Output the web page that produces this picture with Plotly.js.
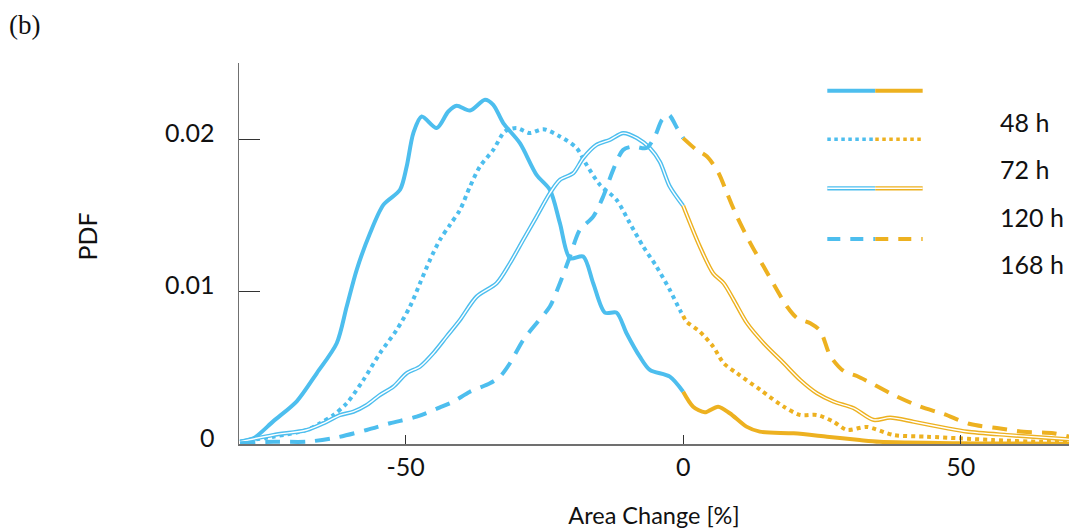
<!DOCTYPE html>
<html>
<head>
<meta charset="utf-8">
<script src="https://cdn.plot.ly/plotly-3.0.1.min.js"></script>
<style>html,body{margin:0;padding:0;background:#fff;}#chart{width:1069px;height:531px;}</style>
</head>
<body>
<div id="chart"></div>
<script>
// ---- data ----
const seriesNames = ['48 h', '72 h', '120 h', '168 h'];

const x48 = [-79.8,-77.4,-73.8,-69.6,-66.0,-62.4,-60.6,-58.8,-56.4,-54.0,-51.0,-49.8,-48.6,-47.1,-44.4,-42.3,-40.8,-38.4,-35.7,-34.2,-32.4,-29.4,-26.4,-24.0,-22.2,-20.4,-18.0,-16.2,-14.1,-12.0,-10.2,-7.8,-6.0,-2.4,0,1.8,3.9,6.3,8.4,11.4,13.8,19.9,25.9,31.8,35.4,49.9,57.1,69.5];
const y48 = [0.00015,0.00037,0.00150,0.00280,0.00464,0.00661,0.00902,0.01143,0.01383,0.01569,0.01668,0.01821,0.0204,0.02149,0.02073,0.02182,0.02219,0.02188,0.02259,0.02226,0.02106,0.01974,0.01766,0.01668,0.01449,0.01219,0.0123,0.01055,0.00862,0.00862,0.00727,0.00573,0.00486,0.00442,0.00343,0.00245,0.00208,0.00245,0.00202,0.00114,0.00081,0.0007,0.00048,0.00026,0.00015,0.00005,0.00003,0.00001];

const x72 = [-79.8,-73.8,-67.8,-65.4,-63.0,-60.6,-57.6,-54.6,-51.6,-49.2,-47.4,-45.6,-43.8,-42.0,-40.2,-38.4,-36.6,-34.2,-32.1,-30.0,-27.6,-25.2,-22.2,-19.2,-17.4,-15.0,-12.0,-9.6,-7.2,-4.8,-2.4,-0.6,0,0.6,3.0,5.4,7.3,9.7,13.9,18.1,21.1,24.1,27.1,29.5,33.1,37.9,43.9,49.9,55.8,64.8,69.5];
const y72 = [0.00015,0.00048,0.00092,0.00136,0.0019,0.00267,0.0042,0.00596,0.00749,0.00902,0.01055,0.01208,0.0134,0.01438,0.01536,0.01689,0.01821,0.0193,0.02051,0.02073,0.0204,0.02066,0.02018,0.01942,0.01832,0.01701,0.01602,0.01449,0.01296,0.01164,0.01011,0.0088,0.0084,0.00803,0.00737,0.00639,0.0053,0.00464,0.00355,0.00245,0.0019,0.0019,0.00146,0.00092,0.00112,0.00059,0.00048,0.00037,0.00026,0.00015,0.00026];

const x120 = [-79.8,-73.8,-67.8,-64.8,-61.8,-59.4,-57.0,-54.6,-52.2,-49.8,-47.4,-45.0,-42.6,-40.2,-37.2,-33.6,-31.2,-28.8,-26.4,-24.0,-22.2,-19.8,-18.0,-15.6,-13.2,-10.8,-8.3,-6.0,-4.2,-2.4,0,3.0,5.4,7.3,9.1,11.5,14.5,18.1,21.1,24.1,27.1,30.7,34.3,37.3,41.5,47.5,51.1,58.3,69.5];
const y120 = [0.00015,0.00059,0.00092,0.00136,0.0019,0.00212,0.00256,0.00322,0.00376,0.00464,0.00508,0.00596,0.00705,0.00814,0.00967,0.01055,0.01186,0.0134,0.01492,0.01646,0.01733,0.01777,0.01876,0.01963,0.01996,0.0204,0.02007,0.01942,0.01852,0.01689,0.01563,0.01296,0.01121,0.01055,0.00946,0.00793,0.00662,0.00531,0.0042,0.00333,0.00278,0.00235,0.00158,0.00173,0.00146,0.00103,0.00081,0.00059,0.00031];

const x168 = [-79.8,-73.8,-67.8,-62.4,-57.0,-52.8,-48.0,-43.8,-41.4,-38.4,-34.8,-33.0,-31.2,-28.8,-26.4,-24.0,-22.2,-20.4,-18.6,-16.2,-14.4,-12.6,-10.8,-9.0,-6.6,-5.1,-3.8,-2.6,-1.1,0,2.4,4.3,6.4,7.9,9.7,12.1,14.5,16.9,18.7,20.5,22.9,24.7,26.5,28.9,31.3,33.1,37.9,42.7,46.9,51.7,56.5,61.3,66.7,69.5];
const y168 = [0.00005,0.00015,0.00015,0.00043,0.00092,0.00136,0.00179,0.0024,0.00278,0.00343,0.00399,0.00442,0.0053,0.00683,0.00793,0.00902,0.01055,0.0123,0.01405,0.01492,0.01624,0.01799,0.0193,0.01952,0.01942,0.02018,0.02127,0.0216,0.02073,0.02007,0.0193,0.01886,0.01777,0.01646,0.01492,0.01318,0.01164,0.01011,0.00902,0.00827,0.00793,0.00742,0.00578,0.00479,0.00446,0.00414,0.00322,0.00245,0.00197,0.00131,0.00105,0.00081,0.0007,0.00048];

const xTickVals = [-50, 0, 50];
const xTickText = ['-50', '0', '50'];
const yTickVals = [0, 0.01, 0.02];
const yTickText = ['0', '0.01', '0.02'];

// ---- styling ----
const BLUE = '#4DBEEE';
const ORANGE = '#EDB120';
const FONT = 'Lato, "Open Sans", sans-serif';
const styles = [
  {kind: 'solid', dash: 'solid', width: 4},
  {kind: 'dot', dash: 'dot', width: 4},
  {kind: 'double', dash: 'solid', width: 4.2},
  {kind: 'dash', dash: '15px,10px', width: 4}
];
const allX = [x48, x72, x120, x168];
const allY = [y48, y72, y120, y168];

const traces = [];
function addTrace(xs, ys, color, st) {
  traces.push({x: xs, y: ys, type: 'scatter', mode: 'lines', hoverinfo: 'skip', showlegend: false,
    line: {color: color, width: st.width, dash: st.dash, shape: 'spline', smoothing: 0.8}});
  if (st.kind === 'double') {
    traces.push({x: xs, y: ys, type: 'scatter', mode: 'lines', hoverinfo: 'skip', showlegend: false,
      line: {color: '#ffffff', width: 1.4, shape: 'spline', smoothing: 0.8}});
  }
}
allX.forEach((xs, i) => {
  const ys = allY[i];
  const lx = [], ly = [], rx = [], ry = [];
  xs.forEach((v, k) => {
    if (v <= 0) { lx.push(v); ly.push(ys[k]); }
    if (v >= 0) { rx.push(v); ry.push(ys[k]); }
  });
  addTrace(lx, ly, BLUE, styles[i]);
  addTrace(rx, ry, ORANGE, styles[i]);
});

// ---- custom legend (paper coordinates) ----
const legX0 = 0.7088, legXm = 0.7666, legX1 = 0.8237;
const legLineY = [0.9273, 0.7997, 0.6711, 0.538];
const legTextY = [0.844, 0.722, 0.597, 0.472];
const legStyles = [
  {dash: 'solid', width: 4},
  {dash: 'dot', width: 3.5},
  {dash: 'solid', width: 4.2, double: true},
  {dash: '13px,10px', width: 4}
];
const shapes = [];
legLineY.forEach((yy, i) => {
  const s = legStyles[i];
  [[legX0, legXm, BLUE], [legXm, legX1, ORANGE]].forEach(seg => {
    shapes.push({type: 'line', xref: 'paper', yref: 'paper', x0: seg[0], x1: seg[1], y0: yy, y1: yy,
      line: {color: seg[2], width: s.width, dash: s.dash}});
  });
  if (s.double) {
    shapes.push({type: 'line', xref: 'paper', yref: 'paper', x0: legX0, x1: legX1, y0: yy, y1: yy,
      line: {color: '#ffffff', width: 1.4}});
  }
});
const annotations = seriesNames.map((n, i) => ({
  text: n, xref: 'paper', yref: 'paper', x: 0.915, y: legTextY[i], xanchor: 'left', yanchor: 'middle',
  showarrow: false, font: {family: FONT, size: 25, color: '#111'}
}));
annotations.push({text: 'PDF', xref: 'paper', yref: 'paper', x: -0.183, y: 0.545, textangle: -90,
  xanchor: 'center', yanchor: 'middle', showarrow: false, font: {family: FONT, size: 25, color: '#111'}});

const layout = {
  width: 1069, height: 531,
  margin: {l: 239, r: 0, t: 63, b: 87, pad: 0},
  paper_bgcolor: '#ffffff', plot_bgcolor: '#ffffff',
  showlegend: false,
  title: {text: '(b)', xref: 'container', yref: 'container', x: 9 / 1069, xanchor: 'left',
    y: 1 - 25 / 531, yanchor: 'middle', font: {family: '"Liberation Serif", "Times New Roman", serif', size: 27, color: '#111'}},
  xaxis: {
    range: [-80, 69.5], showgrid: false, zeroline: false,
    showline: true, linecolor: '#707070', linewidth: 1.5,
    ticks: 'inside', ticklen: 9, tickcolor: '#333', tickwidth: 1.2,
    tickvals: xTickVals, ticktext: xTickText,
    tickfont: {family: FONT, size: 25, color: '#111'},
    title: {text: 'Area Change [%]', font: {family: FONT, size: 23.5, color: '#111'}, standoff: 28}
  },
  yaxis: {
    range: [0, 0.025], showgrid: false, zeroline: false,
    showline: true, linecolor: '#707070', linewidth: 1.5,
    ticks: 'inside', ticklen: 21, tickcolor: '#333', tickwidth: 1.2,
    tickvals: yTickVals, ticktext: yTickText,
    tickfont: {family: FONT, size: 25, color: '#111'},
    ticklabelstandoff: 18, ticklabelshift: -6
  },
  shapes: shapes,
  annotations: annotations
};

Plotly.newPlot('chart', traces, layout, {displayModeBar: false, staticPlot: true});
</script>
</body>
</html>
